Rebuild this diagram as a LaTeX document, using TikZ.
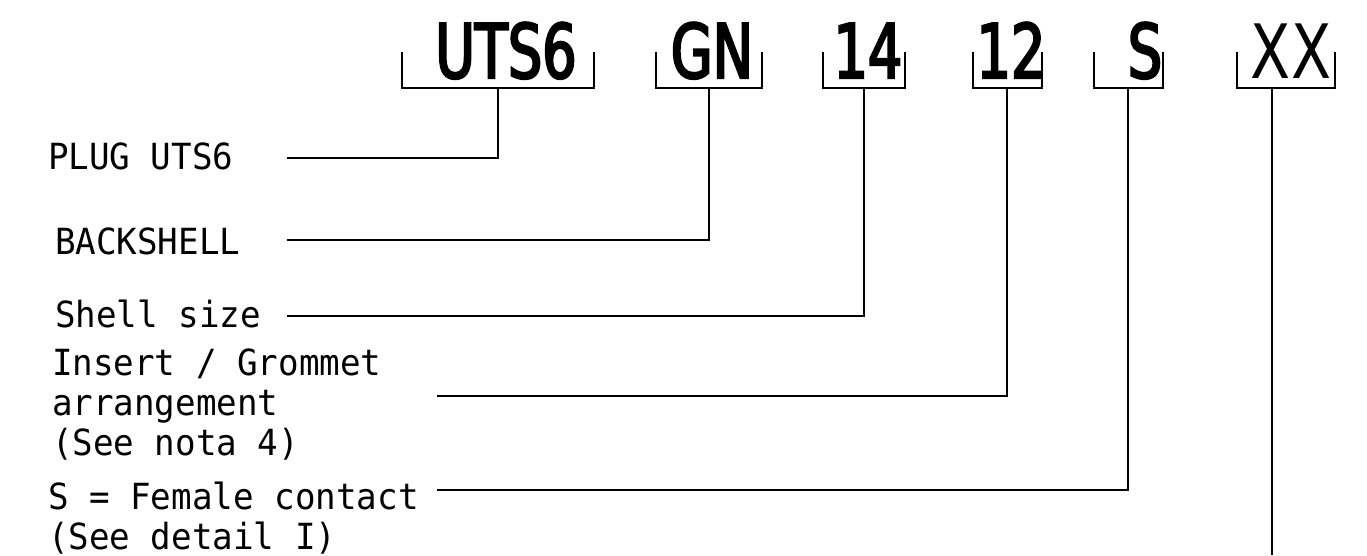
\documentclass[tikz,border=0pt]{standalone}
\usepackage{fontspec}
\newfontfamily\labelfont[FakeStretch=0.95]{DejaVu Sans Mono}
\newfontfamily\codefont[FakeStretch=0.78]{DejaVu Sans}
\newfontfamily\heavycodefont[FakeStretch=0.72,FakeBold=3]{DejaVu Sans}

\begin{document}
\begin{tikzpicture}[x=1pt,y=-1pt,line join=miter]
\tikzstyle{every node}=[inner sep=0pt,outer sep=0pt]
\tikzstyle{code}=[font=\heavycodefont\fontsize{75}{80}\selectfont,anchor=base]
\tikzstyle{codelight}=[font=\codefont\fontsize{75}{80}\selectfont,anchor=base]
\tikzstyle{caption}=[font=\labelfont\fontsize{36}{40}\selectfont,anchor=base west,align=left]
\tikzstyle{bracket}=[line width=1.2pt]
\tikzstyle{leader}=[line width=1.5pt]
\useasboundingbox (0,0) rectangle (1367,555);

\node[code] (uts) at (506,78) {UTS6};
\node[code] (gn) at (712,78) {GN};
\node[code] (size) at (868,78) {14};
\node[code] (insert) at (1011,78) {12};
\node[code] (contact) at (1145,78) {S};
\node[codelight] (opt) at (1291,78) {XX};

\foreach \l/\r/\m/\n in {402/594/498/uts, 656/762/709/gn, 823/905/864/size,
                          973/1042/1007/insert, 1094/1163/1128/contact, 1237/1335/1272/opt}
  {\draw[bracket] (\l,52) |- (\r,88) -- (\r,52);
   \coordinate (\n-stem) at (\m,88);}

% multi-line captions are placed by their last line
\node[caption] (plug) at (48,169) {PLUG UTS6};
\node[caption] (back) at (55,254) {BACKSHELL};
\node[caption] (shell) at (55,327) {Shell size};
\node[caption] (grommet) at (52,455) {Insert / Grommet\\arrangement\\(See nota 4)};
\node[caption] (female) at (48,549) {S = Female contact\\(See detail I)};

\coordinate (plug-end) at (287,158);
\coordinate (back-end) at (287,240);
\coordinate (shell-end) at (287,316);
\coordinate (grommet-end) at (437,396);
\coordinate (female-end) at (437,490);
\coordinate (opt-end) at (1272,555);

\draw[leader] (plug-end) -| (uts-stem);
\draw[leader] (back-end) -| (gn-stem);
\draw[leader] (shell-end) -| (size-stem);
\draw[leader] (grommet-end) -| (insert-stem);
\draw[leader] (female-end) -| (contact-stem);
\draw[leader] (opt-stem) -- (opt-end);
\end{tikzpicture}
\end{document}
